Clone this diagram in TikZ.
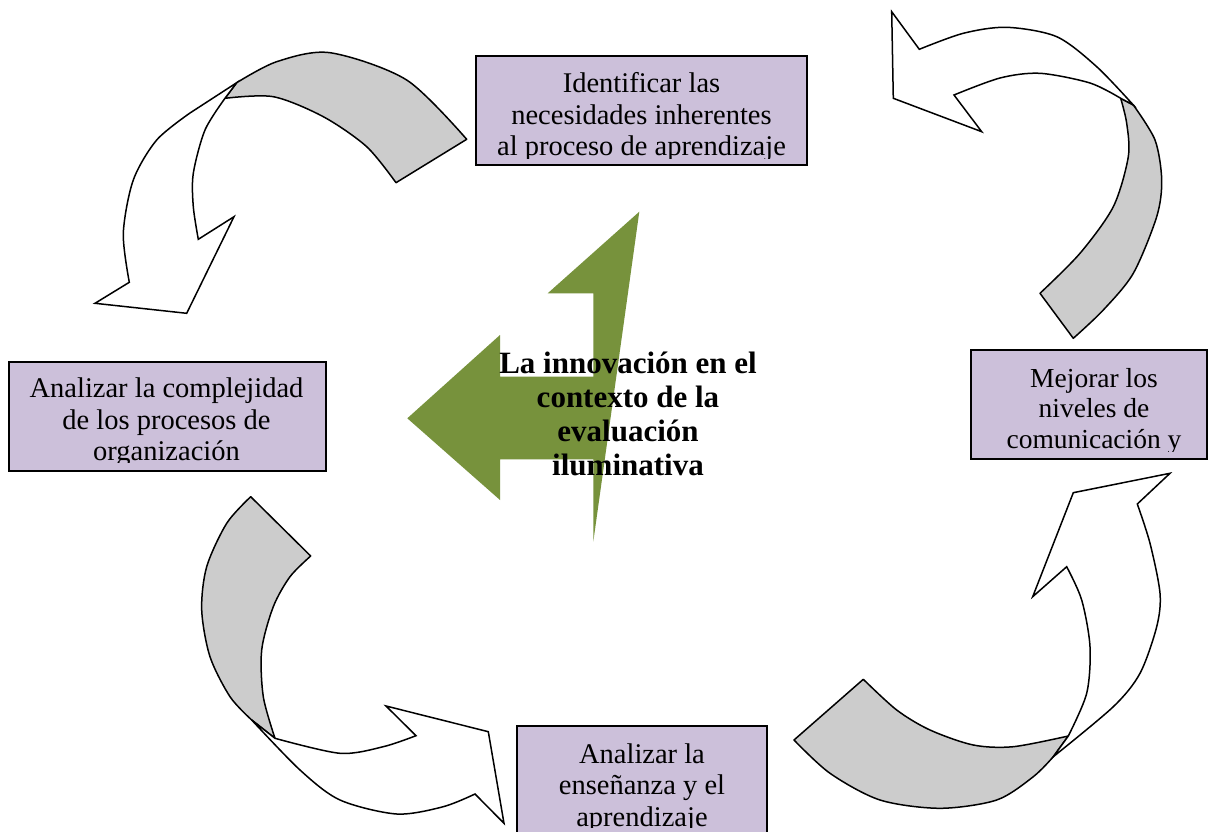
\documentclass[tikz,border=0pt]{standalone}
\usepackage{fontspec}
\setmainfont{Liberation Serif}
\definecolor{lav}{RGB}{204,192,218}
\definecolor{olive}{RGB}{119,146,60}
\definecolor{band}{RGB}{204,204,204}
\tikzset{
  boxshape/.style={draw=black, fill=lav, line width=1.5pt, inner sep=0pt},
  boxtext/.style={align=center, inner sep=0pt, font=\fontsize{28.5}{31.5}\selectfont},
  smallboxtext/.style={align=center, inner sep=0pt, font=\fontsize{27.5}{30.5}\selectfont},
  titletext/.style={align=center, inner sep=0pt, font=\bfseries\fontsize{31}{34}\selectfont},
  bandback/.style={draw=black, fill=band, line width=1.5pt, line join=round},
  bandfront/.style={draw=black, fill=white, line width=1.5pt, line join=miter},
}
\begin{document}
\begin{tikzpicture}[x=1pt, y=-1pt]
\useasboundingbox (0,0) rectangle (1208,832);
\fill[white] (0,0) rectangle (1208,832);

% ---- curved arrow 1 (top left)
\filldraw[bandback] plot[smooth] coordinates {(466.7,139.3) (406.7,80) (330,52.7) (276.7,61.7) (236.7,82.7)}
  -- (225,98.3) -- plot[smooth] coordinates {(225,98.3) (273.3,96.7) (323.3,116.7) (366.7,146.7) (396,182.7)} -- cycle;
\filldraw[bandfront] (236.7,82.7) -- plot[smooth] coordinates {(190,113) (156.7,140) (133.3,180) (123.3,233.3) (129.3,282.3)}
  -- (95,303.3) -- (186.7,313.3) -- (234,216.7) -- (198.3,239.3)
  -- plot[smooth] coordinates {(198.3,239.3) (193.3,206.7) (193.3,173.3) (205,130) (225,98.3)} -- cycle;

% ---- curved arrow 2 (top right)
\filldraw[bandback] plot[smooth] coordinates {(1133.3,105) (1155,140) (1161.7,180) (1156.7,216.7) (1133.3,273.3) (1103.3,310) (1073.3,338.3)}
  -- (1040,293.3) -- plot[smooth] coordinates {(1040,293.3) (1080,253.3) (1113.3,206.7) (1128.3,156.7) (1126.7,123.3) (1120.7,98.3)} -- cycle;
\filldraw[bandfront] plot[smooth] coordinates {(1133.3,105) (1096.7,66.7) (1056.7,36.7) (1006.7,27.3) (963.3,33.3) (919.3,49.3)}
  -- (891.7,11.7) -- (893.3,98.3) -- (981.7,131.7) -- (954,95)
  -- plot[smooth] coordinates {(954,95) (1000,78) (1040,73.3) (1090,83) (1120.7,98.3)} -- cycle;

% ---- curved arrow 3 (bottom left)
\filldraw[bandback] (250.7,496.7) -- plot[smooth] coordinates {(310.7,556) (290,576.7) (273.3,606.7) (261.7,650) (263.3,696.7) (275,738.3)}
  -- plot[smooth] coordinates {(251.7,720) (230,696.7) (210,656.7) (201.7,610) (206.7,566.7) (226.7,523.3) (250.7,496.7)} -- cycle;
\filldraw[bandfront] plot[smooth] coordinates {(275,738.3) (340,753.3) (383.3,746.7) (416,735.7)}
  -- (386,706) -- (488.3,731.7) -- (504,823.3) -- (475,794)
  -- plot[smooth] coordinates {(475,794) (443.3,806.7) (396.7,814) (340,800) (300,770) (251.7,720)} -- cycle;

% ---- curved arrow 4 (bottom right)
\filldraw[bandback] (794,740) -- plot[smooth] coordinates {(863.3,679.3) (896.7,710) (930,730) (973.3,745) (1013.3,746.7) (1068.3,736)}
  -- plot[smooth] coordinates {(1053.3,756.7) (1033.3,776.7) (996.7,800) (940,808.3) (880,800) (830,773.3) (794,740)} -- cycle;
\filldraw[bandfront] plot[smooth] coordinates {(1053.3,756.7) (1113.3,706.7) (1140,673.3) (1156.7,626.7) (1160,593.3) (1150,543.3) (1137.3,504)}
  -- (1170,473.3) -- (1073.3,492.7) -- (1032.7,596.7) -- (1066.7,566.7)
  -- plot[smooth] coordinates {(1066.7,566.7) (1081.7,600) (1090,646.7) (1086.7,693.3) (1068.3,736)} -- cycle;

% ---- central green arrow
\fill[olive] (639.3,211.7) -- (547.7,293.3) -- (593.3,293.3) -- (593.3,376.7) -- (500,376.7) -- (500,335)
  -- (407.3,418.3) -- (500,500) -- (500,459.3) -- (593.3,459.3) -- (593.3,541.7) -- cycle;
\node[titletext, anchor=base] (title) at (628,475) {La innovación en el\\contexto de la\\evaluación\\iluminativa};

% ---- boxes
\node[boxshape, minimum width=331pt, minimum height=109pt] (b1) at (641.5,110.5) {};
\begin{scope}
\clip (b1.north west) rectangle ([yshift=7pt]b1.south east);
\node[boxtext, anchor=base] (t1) at (641.5,156) {Identificar las\\necesidades inherentes\\al proceso de aprendizaje};
\end{scope}

\node[boxshape, minimum width=317pt, minimum height=109pt] (b2) at (167.5,416.5) {};
\begin{scope}
\clip (b2.north west) rectangle ([yshift=9pt]b2.south east);
\node[boxtext, anchor=base] (t2) at (166.5,460.5) {Analizar la complejidad\\de los procesos de\\organización};
\end{scope}

\node[boxshape, minimum width=236pt, minimum height=109pt] (b3) at (1089,404.5) {};
\begin{scope}
\clip (b3.north west) rectangle ([yshift=8.5pt]b3.south east);
\node[smallboxtext, anchor=base] (t3) at (1094,448.3) {Mejorar los\\niveles de\\comunicación y};
\end{scope}

\node[boxshape, minimum width=250pt, minimum height=120pt] (b4) at (642,786) {};
\begin{scope}
\clip (b4.north west) rectangle ([yshift=19pt]b4.south east);
\node[boxtext, anchor=base] (t4) at (642,826) {Analizar la\\enseñanza y el\\aprendizaje};
\end{scope}
\end{tikzpicture}
\end{document}
